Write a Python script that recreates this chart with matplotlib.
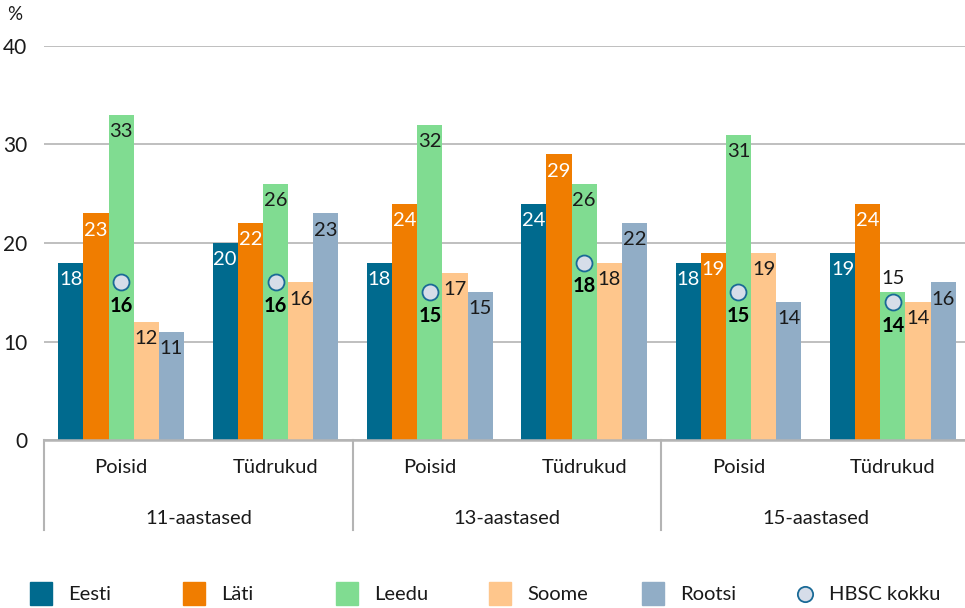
import matplotlib
matplotlib.use("Agg")
import matplotlib.pyplot as plt
import matplotlib.transforms as mtransforms
from matplotlib.patches import Rectangle
from matplotlib.lines import Line2D
import numpy as np

plt.rcParams['font.family'] = ['Lato', 'DejaVu Sans']

# andmed
genders = ["Poisid", "Tüdrukud", "Poisid", "Tüdrukud", "Poisid", "Tüdrukud"]
ages = ["11-aastased", "13-aastased", "15-aastased"]
series_names = ["Eesti", "Läti", "Leedu", "Soome", "Rootsi"]
eesti = [18, 20, 18, 24, 18, 19]
lati = [23, 22, 24, 29, 19, 24]
leedu = [33, 26, 32, 26, 31, 15]
soome = [12, 16, 17, 18, 19, 14]
rootsi = [11, 23, 15, 22, 14, 16]
hbsc = [16, 16, 15, 18, 15, 14]
yticks = [0, 10, 20, 30, 40]

colors = ["#006a8e", "#f07d00", "#80dc91", "#fec68c", "#91adc6"]
text_colors = ["white", "white", "#1a1a1a", "#1a1a1a", "#1a1a1a"]
series = [eesti, lati, leedu, soome, rootsi]

W, H = 965, 608
FS = 14.5
fig = plt.figure(figsize=(W / 100, H / 100), dpi=100)
ax = fig.add_axes([44 / W, 1 - 440 / H, (970 - 44) / W, (440 - 46) / H])

x = np.arange(len(genders))
bw = 0.163
for i, (vals, c, tc) in enumerate(zip(series, colors, text_colors)):
    xs = x + (i - 2) * bw
    ax.bar(xs, vals, width=bw, color=c, zorder=2)
    for xi, v, hv in zip(xs, vals, hbsc):
        if i == 2 and abs(v - hv) <= 2:
            # silt tulba kohale, kui HBSC marker segab
            ax.annotate(str(v), (xi, v), xytext=(0, 10), textcoords="offset points",
                        ha="center", va="center", fontsize=FS, color="#1a1a1a", zorder=4)
        else:
            ax.annotate(str(v), (xi, v), xytext=(0, -12), textcoords="offset points",
                        ha="center", va="center", fontsize=FS, color=tc, zorder=4)

# HBSC kokku
ax.plot(x, hbsc, linestyle="none", marker="o", markersize=11.5,
        markerfacecolor="#d6dde9", markeredgecolor="#1a6a96", markeredgewidth=1.3, zorder=5)
for xi, hv in zip(x, hbsc):
    ax.annotate(str(hv), (xi, hv), xytext=(0, -17), textcoords="offset points",
                ha="center", va="center", fontsize=FS, fontweight="bold", color="black", zorder=5)

ax.set_ylim(0, 40)
ax.set_xlim(-0.5, len(genders) - 0.5)
ax.set_yticks(yticks)
ax.set_yticklabels([str(t) for t in yticks], fontsize=FS + 0.5, color="#1a1a1a")
ax.tick_params(axis="y", length=0, pad=12)
ax.set_xticks([])
ax.grid(axis="y", color="#b4b4b4", linewidth=1.2, zorder=0)
ax.set_axisbelow(True)
for s in ["top", "right", "left"]:
    ax.spines[s].set_visible(False)
ax.spines["bottom"].set_color("#b4b4b4")
ax.spines["bottom"].set_linewidth(1.8)
ax.spines["bottom"].set_zorder(3)

# mitmetasemeline x-telg
trans = mtransforms.blended_transform_factory(ax.transData, ax.transAxes)
for xi, g in zip(x, genders):
    ax.text(xi, -0.071, g, transform=trans, ha="center", va="center", fontsize=FS, color="#1a1a1a")
for k, a in enumerate(ages):
    ax.text(2 * k + 0.5, -0.198, a, transform=trans, ha="center", va="center", fontsize=FS, color="#1a1a1a")
for k in range(len(ages)):
    ax.add_line(Line2D([2 * k - 0.5, 2 * k - 0.5], [0, -0.228], transform=trans,
                       color="#b4b4b4", linewidth=1.5, clip_on=False))

# legend
fig.text(15 / W, 1 - 15 / H, "%", fontsize=FS - 1, color="#1a1a1a", ha="center", va="center")
ly = 1 - 594 / H
for i, (name, c) in enumerate(zip(series_names, colors)):
    x0 = (30 + i * 153) / W
    fig.patches.append(Rectangle((x0, ly - 11 / H), 22 / W, 23 / H, transform=fig.transFigure,
                                 color=c, figure=fig))
    fig.text(x0 + 38 / W, ly, name, fontsize=FS, color="#1a1a1a", va="center", ha="left")
hx = (30 + 5 * 153 + 10) / W
fig.lines.append(Line2D([hx], [ly], transform=fig.transFigure, marker="o", markersize=11,
                        markerfacecolor="#d6dde9", markeredgecolor="#1a6a96", markeredgewidth=1.3))
fig.text(hx + 24 / W, ly, "HBSC kokku", fontsize=FS, color="#1a1a1a", va="center", ha="left")

fig.savefig("out.png", dpi=100)
